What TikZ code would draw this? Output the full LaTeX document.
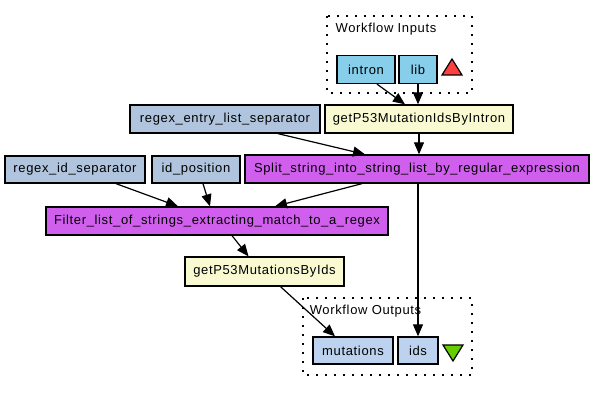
\documentclass[tikz,border=0pt]{standalone}
\usepackage{fontspec}
\setmainfont{Liberation Sans}[LetterSpace=5]
\usepackage{tikz}
\usetikzlibrary{arrows.meta}
\definecolor{wfinput}{HTML}{87CEEB}
\definecolor{wfconst}{HTML}{B0C4DE}
\definecolor{wflocal}{HTML}{D15FEE}
\definecolor{wfbeans}{HTML}{FAFAD2}
\definecolor{wfoutput}{HTML}{BCD2EE}
\definecolor{wfred}{HTML}{FF4040}
\definecolor{wfgreen}{HTML}{66CD00}

\begin{document}
\begin{tikzpicture}[x=1pt,y=-1pt,font=\fontsize{13}{15}\selectfont,
    box/.style={draw,line width=1.3pt,minimum height=28pt,inner sep=0pt},
    flow/.style={-{Triangle[length=12pt,width=10pt]},line width=1.2pt},
    cluster/.style={line width=1.6pt,dash pattern=on 1.6pt off 7.4pt}]
    \useasboundingbox (0,0) rectangle (597,403);
    % workflow inputs
    \draw[cluster] (327,16) rectangle (472,93);
    \node (inlabel) at (386,29) {Workflow Inputs};
    \node[box,fill=wfinput,minimum width=58pt] (intron) at (366,69.5) {intron};
    \node[box,fill=wfinput,minimum width=38pt] (lib) at (418,69.5) {lib};
    \draw[line width=1.2pt,fill=wfred] (442,75)--(462,75)--(452,59)--cycle;
    % processors
    \node[box,fill=wfconst,minimum width=190pt] (entrysep) at (225,119) {regex\_entry\_list\_separator};
    \node[box,fill=wfbeans,minimum width=188pt] (getintron) at (419,119) {getP53MutationIdsByIntron};
    \node[box,fill=wfconst,minimum width=140pt,minimum height=27pt] (idsep) at (75,169.5) {regex\_id\_separator};
    \node[box,fill=wfconst,minimum width=88pt,minimum height=27pt] (idpos) at (196,169.5) {id\_position};
    \node[box,fill=wflocal,minimum width=344pt] (split) at (417,169) {Split\_string\_into\_string\_list\_by\_regular\_expression};
    \node[box,fill=wflocal,minimum width=342pt] (filter) at (217,221) {Filter\_list\_of\_strings\_extracting\_match\_to\_a\_regex};
    \node[box,fill=wfbeans,minimum width=159pt,minimum height=29pt] (getids) at (264.5,271.5) {getP53MutationsByIds};
    % workflow outputs
    \draw[cluster] (303,298) rectangle (472,375);
    \node (outlabel) at (365.5,311) {Workflow Outputs};
    \node[box,fill=wfoutput,minimum width=80pt,minimum height=27pt] (mutations) at (353,350.5) {mutations};
    \node[box,fill=wfoutput,minimum width=40pt,minimum height=27pt] (ids) at (418,350.5) {ids};
    \draw[line width=1.2pt,fill=wfgreen] (443,345)--(463,345)--(453,361)--cycle;
    % links
    \draw[flow] ([xshift=11pt]intron.south) -- ([xshift=-14pt]getintron.north);
    \draw[flow] (lib.south) -- (lib.south |- getintron.north);
    \draw[flow] ([xshift=53pt]entrysep.south) -- ([xshift=-52pt]split.north);
    \draw[flow] (getintron.south) -- (getintron.south |- split.north);
    \draw[flow] ([xshift=-55pt]split.south) -- ([xshift=58pt]filter.north);
    \draw[flow] ([xshift=41pt]idsep.south) -- ([xshift=-39pt]filter.north);
    \draw[flow] ([xshift=7pt]idpos.south) -- ([xshift=-7pt]filter.north);
    \draw[flow] ([xshift=15pt]filter.south) -- ([xshift=-16pt]getids.north);
    \draw[flow] ([xshift=16pt]getids.south) -- ([xshift=-18pt]mutations.north);
    \draw[flow] (ids.north |- split.south) -- (ids.north);
\end{tikzpicture}
\end{document}
